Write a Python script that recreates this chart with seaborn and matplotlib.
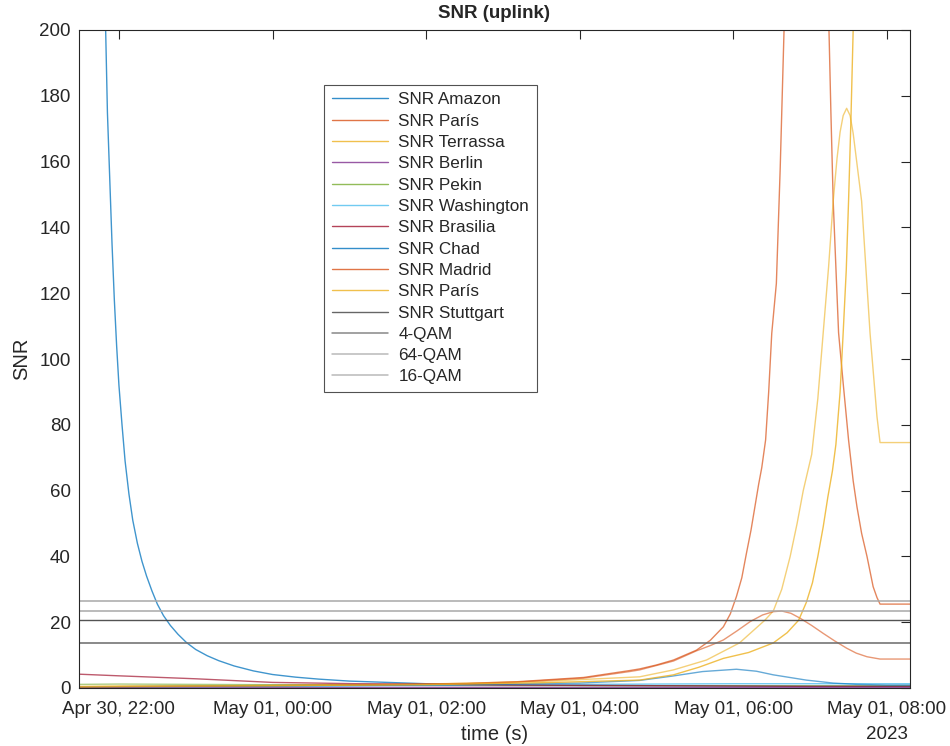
import matplotlib
matplotlib.use("Agg")
import matplotlib.pyplot as plt
import matplotlib.dates as mdates
import matplotlib.transforms as mtransforms
import numpy as np
import pandas as pd
import seaborn as sns

# ---------------- data (hours after 2023-04-30 22:00) ----------------
BASE = pd.Timestamp("2023-04-30 22:00")
X_START_H = -0.52
X_END_H = 10.30

amazon_h = [-0.52, -0.40, -0.30, -0.24, -0.20, -0.173, -0.15, -0.12, -0.09, -0.06, -0.03, 0.0,
            0.04, 0.08, 0.13, 0.18, 0.24, 0.30, 0.36, 0.43, 0.50, 0.58, 0.67, 0.77, 0.88, 1.0,
            1.15, 1.3, 1.5, 1.75, 2.0, 2.3, 2.6, 3.0, 3.5, 4.0, 5.0, 6.0, 7.0, 8.0, 9.0, 10.30]
amazon_v = [1500, 700, 400, 290, 235, 200, 175, 155, 135, 118, 104, 92,
            80, 69, 59, 51, 44, 38.5, 34, 29.5, 25.5, 22, 19, 16.3, 13.8, 11.7,
            9.8, 8.3, 6.7, 5.2, 4.1, 3.3, 2.7, 2.1, 1.7, 1.3, 1.0, 0.8, 0.7, 0.6, 0.5, 0.5]

paris_h = [-0.52, 0, 1, 2, 3, 4, 4.53, 5.18, 6.05, 6.65, 6.78, 7.0, 7.22, 7.52, 7.7, 7.87,
           7.96, 8.04, 8.11, 8.17, 8.23, 8.28, 8.33, 8.37, 8.42, 8.46, 8.50, 8.56, 8.61, 8.66,
           8.72, 8.8, 8.9, 9.0, 9.1, 9.18, 9.245, 9.27, 9.30, 9.34, 9.37, 9.43, 9.50, 9.56,
           9.61, 9.67, 9.74, 9.82, 9.87, 9.91, 10.30]
paris_v = [0.3, 0.4, 0.6, 0.8, 1.0, 1.2, 1.4, 1.9, 3.2, 5.3, 5.8, 7.0, 8.5, 11.5, 14.5, 18.6,
           22.5, 27.8, 33.5, 40.9, 48, 55, 62, 67, 75.4, 90, 107.8, 123, 158, 200,
           250, 300, 340, 350, 310, 250, 200, 175, 148, 125, 108, 92.6, 75.4, 63,
           55, 47, 40, 30.8, 27.5, 25.5, 25.5]

terrassa_h = [-0.52, 0, 2, 4, 5.5, 6.78, 7.22, 7.65, 8.08, 8.41, 8.52, 8.63, 8.74, 8.83, 8.91,
              9.02, 9.10, 9.17, 9.24, 9.30, 9.35, 9.39, 9.43, 9.475, 9.52, 9.56, 9.67, 9.78,
              9.87, 9.91, 10.30]
terrassa_v = [0.5, 0.6, 0.8, 1.2, 2.0, 3.4, 5.5, 8.5, 13.7, 20.6, 23.4, 30, 40, 50, 60,
              71, 88, 108, 128, 148, 161, 169, 174, 176.2, 174, 168.6, 148, 107.8,
              82.5, 74.6, 74.6]

berlin_h = [-0.52, 2, 4, 6, 8, 10.30]
berlin_v = [0.15, 0.15, 0.2, 0.2, 0.15, 0.15]

pekin_h = [-0.52, 0, 2, 4, 6, 8, 10.30]
pekin_v = [1.1, 1.2, 1.0, 0.8, 0.7, 0.7, 0.7]

washington_h = [-0.52, 0, 2, 4, 6, 8, 10.30]
washington_v = [0.3, 0.4, 0.5, 0.8, 1.1, 1.3, 1.3]

brasilia_h = [-0.52, 0, 1, 2, 3.1, 4, 5, 6, 7, 8, 9, 10.30]
brasilia_v = [4.2, 3.7, 2.8, 1.7, 1.3, 1.1, 0.9, 0.8, 0.7, 0.6, 0.5, 0.5]

chad_h = [-0.52, 0, 2, 4, 5, 6, 6.78, 7.2, 7.6, 8.04, 8.3, 8.52, 8.95, 9.3, 9.61, 10.0, 10.30]
chad_v = [0.3, 0.4, 0.6, 0.9, 1.2, 1.5, 2.3, 3.6, 5.0, 5.7, 5.1, 4.0, 2.4, 1.5, 1.1, 0.9, 0.9]

madrid_h = [-0.52, 0, 1, 2, 3, 4, 4.53, 5.18, 6.05, 6.65, 6.78, 7.22, 7.52, 7.7, 7.87, 8.05,
            8.22, 8.38, 8.52, 8.63, 8.75, 8.87, 9.02, 9.17, 9.32, 9.475, 9.6, 9.74, 9.91, 10.30]
madrid_v = [0.2, 0.3, 0.5, 0.7, 0.9, 1.1, 1.3, 1.8, 3.0, 5.0, 5.5, 8.2, 11.3, 12.9, 14.6, 17.4,
            20.2, 22.2, 23.2, 23.4, 22.7, 21.2, 19.0, 16.6, 14.3, 12.1, 10.6, 9.5, 8.8, 8.8]

paris2_h = [-0.52, 0, 2, 4, 5.5, 6.78, 7.22, 7.55, 7.87, 8.2, 8.52, 8.70, 8.85, 8.95, 9.03,
            9.10, 9.17, 9.23, 9.29, 9.335, 9.39, 9.43, 9.47, 9.50, 9.53, 9.56, 9.62, 10.30]
paris2_v = [0.4, 0.5, 0.7, 1.0, 1.6, 2.4, 4.0, 6.3, 9.0, 10.8, 13.7, 16.8, 20.6, 26, 32,
            40, 49, 58, 66, 74, 90, 108, 127, 148, 172, 200, 250, 600]

stuttgart_h = [-0.52, 10.30]
stuttgart_v = [20.6, 20.6]

qam_labels = ["4-QAM", "64-QAM", "16-QAM"]
qam_values = [13.7, 26.5, 23.5]

series_labels = ["SNR Amazon", "SNR París", "SNR Terrassa", "SNR Berlin", "SNR Pekin",
                 "SNR Washington", "SNR Brasilia", "SNR Chad", "SNR Madrid", "SNR París",
                 "SNR Stuttgart"]
series_h = [amazon_h, paris_h, terrassa_h, berlin_h, pekin_h, washington_h, brasilia_h,
            chad_h, madrid_h, paris2_h, stuttgart_h]
series_v = [amazon_v, paris_v, terrassa_v, berlin_v, pekin_v, washington_v, brasilia_v,
            chad_v, madrid_v, paris2_v, stuttgart_v]

# ---------------- styling ----------------
series_colors = ["#0072BD", "#D95319", "#EDB120", "#7E2F8E", "#77AC30", "#4DBEEE", "#A2142F",
                 "#0072BD", "#D95319", "#EDB120", "#404040"]
series_alpha = [0.75, 0.7, 0.6, 0.8, 0.6, 0.8, 0.7, 0.6, 0.6, 0.8, 0.9]
qam_colors = ["#6a6a6a", "#a8a8a8", "#a8a8a8"]
TXT = "#262626"

sns.set_style("white")
plt.rcParams["font.family"] = ["Liberation Sans", "DejaVu Sans"]
plt.rcParams["text.color"] = TXT
plt.rcParams["axes.labelcolor"] = TXT
plt.rcParams["xtick.color"] = TXT
plt.rcParams["ytick.color"] = TXT

fig = plt.figure(figsize=(9.5, 7.46), dpi=100)
ax = fig.add_axes([79 / 950, 58 / 746, 831 / 950, 658 / 746])

for lab, hh, vv, col, al in zip(series_labels, series_h, series_v, series_colors, series_alpha):
    df = pd.DataFrame({"time": BASE + pd.to_timedelta(np.array(hh), unit="h"), "snr": vv})
    sns.lineplot(data=df, x="time", y="snr", ax=ax, color=col, alpha=al, linewidth=1.0,
                 label=lab, estimator=None, sort=False)

for lab, val, col in zip(qam_labels, qam_values, qam_colors):
    ax.axhline(val, color=col, linewidth=1.1, label=lab)

ax.set_xlim(BASE + pd.Timedelta(hours=X_START_H), BASE + pd.Timedelta(hours=X_END_H))
ax.set_ylim(0, 200)
ax.set_yticks(np.arange(0, 201, 20))
ax.xaxis.set_major_locator(mdates.HourLocator(interval=2))
ax.xaxis.set_major_formatter(mdates.DateFormatter("%b %d, %H:%M"))

ax.tick_params(axis="both", direction="in", length=6.5, width=0.8, labelsize=13.5,
               top=True, right=True)
ax.tick_params(axis="x", pad=9.5)
ax.tick_params(axis="y", pad=6)
for s in ax.spines.values():
    s.set_color(TXT)
    s.set_linewidth(0.8)
    s.set_visible(True)

ax.set_xlabel("time (s)", fontsize=14.5, labelpad=5)
ax.set_ylabel("SNR", fontsize=14.5, labelpad=6)
ax.set_title("SNR (uplink)", fontsize=13.5, fontweight="bold", pad=8.5)

trans = mtransforms.blended_transform_factory(ax.transData, ax.transAxes)
ax.text(BASE + pd.Timedelta(hours=10), -0.0578, "2023", transform=trans, ha="center",
        va="top", fontsize=13.5, color=TXT)

leg = ax.legend(loc="upper left", bbox_to_anchor=(0.295, 0.917), borderaxespad=0,
                fontsize=12.3, frameon=True, fancybox=False, edgecolor=TXT,
                handlelength=3.3, handletextpad=0.6, labelspacing=0.37, borderpad=0.45)
leg.get_frame().set_linewidth(0.8)
for line in leg.get_lines():
    line.set_alpha(0.8)

fig.savefig("out.png", dpi=100, facecolor="white")
